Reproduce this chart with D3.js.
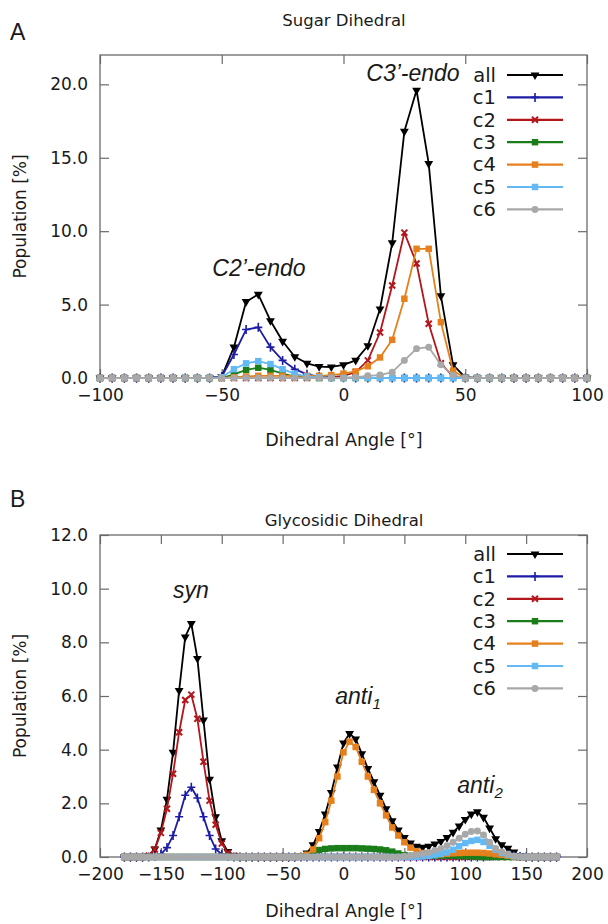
<!DOCTYPE html>
<html><head><meta charset="utf-8">
<script src="https://cdn.jsdelivr.net/npm/d3@7"></script>
<style>
body{margin:0;background:#fff}
svg{display:block}
text{font-family:"DejaVu Sans",sans-serif;fill:#1a1a1a}
</style>
</head><body>
<svg id="chart" width="608" height="924"></svg>
<script>
// ---------- DATA ----------
const seriesNames = ["all","c1","c2","c3","c4","c5","c6"];

// Panel A: Sugar dihedral
const sugarAngles = [-100,-95,-90,-85,-80,-75,-70,-65,-60,-55,
  -50,-45,-40,-35,-30,-25,-20,-15,-10,-5,0,5,10,15,20,25,30,35,40,45,50,
  55,60,65,70,75,80,85,90,95,100];
const sugarAll = [0,0,0,0,0,0,0,0,0,0,
  0.1,2.1,5.2,5.7,3.9,2.5,1.45,1.0,0.78,0.75,0.9,1.2,2.2,4.7,9.2,16.8,19.6,14.6,5.6,0.9,0.05,
  0,0,0,0,0,0,0,0,0,0];
const sugarC1 = [0,0,0,0,0,0,0,0,0,0,
  0.1,1.6,3.3,3.45,2.1,1.2,0.6,0.25,0.1,0.05,0.02,0,0,0,0,0,0,0,0,0,0,
  0,0,0,0,0,0,0,0,0,0];
const sugarC2 = [0,0,0,0,0,0,0,0,0,0,
  0,0,0,0,0,0,0,0,0.02,0.05,0.15,0.4,1.2,3.1,6.3,9.9,7.8,3.7,1.0,0.1,0,
  0,0,0,0,0,0,0,0,0,0];
const sugarC3 = [0,0,0,0,0,0,0,0,0,0,
  0,0.25,0.55,0.7,0.55,0.3,0.1,0.05,0,0,0,0,0,0,0,0,0,0,0,0,0,
  0,0,0,0,0,0,0,0,0,0];
const sugarC4 = [0,0,0,0,0,0,0,0,0,0,
  0,0.05,0.1,0.15,0.15,0.15,0.15,0.15,0.15,0.2,0.3,0.45,0.8,1.4,2.6,5.4,8.8,8.8,3.8,0.5,0,
  0,0,0,0,0,0,0,0,0,0];
const sugarC5 = [0,0,0,0,0,0,0,0,0,0,
  0.05,0.6,1.0,1.15,0.95,0.6,0.3,0.1,0.05,0,0,0,0,0,0,0,0,0,0,0,0,
  0,0,0,0,0,0,0,0,0,0];
const sugarC6 = [0,0,0,0,0,0,0,0,0,0,
  0,0,0,0,0,0,0,0,0,0,0,0.05,0.15,0.2,0.4,1.2,2.0,2.1,0.9,0.2,0,
  0,0,0,0,0,0,0,0,0,0];
const sugarXTicks = [-100,-50,0,50,100];
const sugarYTicks = [0,5,10,15,20];

// Panel B: Glycosidic dihedral
const glyAngles = [-180,-175,-170,-165,-160,-155,-150,-145,-140,-135,-130,-125,
  -120,-115,-110,-105,-100,-95,-90,-85,-80,-75,-70,-65,
  -60,-55,-50,-45,-40,-35,-30,-25,-20,-15,-10,-5,
  0,5,10,15,20,25,30,35,40,45,50,55,
  60,65,70,75,80,85,90,95,100,105,110,115,
  120,125,130,135,140,145,150,155,160,165,170,175];
const glyAll = [0,0,0,0,0.05,0.3,1.0,2.15,3.9,6.2,8.2,8.7,
  7.4,5.1,2.9,1.5,0.6,0.2,0.05,0,0,0,0,0,
  0,0,0,0,0,0.03,0.15,0.45,0.95,1.6,2.4,3.35,
  4.25,4.6,4.4,3.85,3.3,2.8,2.3,1.8,1.35,1.0,0.72,0.52,
  0.4,0.36,0.4,0.48,0.58,0.72,0.92,1.15,1.4,1.6,1.68,1.48,
  1.08,0.68,0.45,0.32,0.18,0.05,0,0,0,0,0,0];
const glyC1 = [0,0,0,0,0,0.02,0.1,0.35,0.8,1.5,2.3,2.6,
  2.2,1.5,0.8,0.3,0.1,0.02,0,0,0,0,0,0,
  0,0,0,0,0,0,0,0,0,0,0,0,
  0,0,0,0,0,0,0,0,0,0,0,0,
  0,0,0,0,0,0,0,0,0,0,0,0,
  0.03,0.05,0.08,0.08,0.05,0.02,0,0,0,0,0,0];
const glyC2 = [0,0,0,0,0.05,0.28,0.9,1.8,3.1,4.65,5.85,6.05,
  5.15,3.55,2.1,1.2,0.5,0.15,0.05,0,0,0,0,0,
  0,0,0,0,0,0,0,0,0,0,0,0,
  0,0,0,0,0,0,0,0,0,0,0,0,
  0,0,0,0,0,0,0,0,0,0,0,0,
  0,0,0,0,0,0,0,0,0,0,0,0];
const glyC3 = [0,0,0,0,0,0,0,0,0,0,0,0,
  0,0,0,0,0,0,0,0,0,0,0,0,
  0,0,0,0,0,0.02,0.08,0.18,0.26,0.3,0.32,0.33,
  0.33,0.33,0.33,0.32,0.31,0.3,0.28,0.25,0.2,0.13,0.07,0.04,
  0.03,0.03,0.04,0.04,0.05,0.05,0.05,0.04,0.03,0.02,0.01,0,
  0,0,0,0,0,0,0,0,0,0,0,0];
const glyC4 = [0,0,0,0,0,0,0,0,0,0,0,0,
  0,0,0,0,0,0,0,0,0,0,0,0,
  0,0,0,0,0,0.02,0.08,0.28,0.7,1.3,2.1,3.0,
  3.9,4.3,4.1,3.55,3.0,2.5,2.0,1.55,1.1,0.8,0.55,0.35,
  0.22,0.15,0.12,0.1,0.1,0.12,0.14,0.15,0.16,0.16,0.16,0.15,
  0.13,0.1,0.08,0.05,0.02,0,0,0,0,0,0,0];
const glyC5 = [0,0,0,0,0,0,0,0,0,0,0,0,
  0,0,0,0,0,0,0,0,0,0,0,0,
  0,0,0,0,0,0,0,0,0,0,0,0,
  0,0,0,0,0,0,0,0,0,0,0,0,
  0.01,0.02,0.04,0.07,0.11,0.17,0.27,0.4,0.52,0.6,0.64,0.56,
  0.42,0.27,0.15,0.08,0.03,0.01,0,0,0,0,0,0];
const glyC6 = [0,0,0,0,0,0,0,0,0,0,0,0,
  0,0,0,0,0,0,0,0,0,0,0,0,
  0,0,0,0,0,0,0,0,0,0,0,0,
  0,0,0,0,0,0,0,0,0,0,0.03,0.05,
  0.08,0.12,0.17,0.24,0.32,0.42,0.55,0.7,0.85,0.95,0.97,0.82,
  0.55,0.32,0.19,0.1,0.04,0.01,0,0,0,0,0,0];
const glyXTicks = [-200,-150,-100,-50,0,50,100,150,200];
const glyYTicks = [0,2,4,6,8,10,12];

// ---------- STYLES ----------
const styles = {
  all:{color:"#000000", sym:"tri"},
  c1:{color:"#1c1ca6", sym:"plus"},
  c2:{color:"#b3161b", sym:"x"},
  c3:{color:"#1a7d1a", sym:"sq"},
  c4:{color:"#e5801c", sym:"sq"},
  c5:{color:"#62b9f4", sym:"sq"},
  c6:{color:"#a8a8a8", sym:"circ"}
};

const svg = d3.select("#chart");

function marker(sel, sym, color){
  if(sym==="tri"){
    sel.append("path").attr("d", d3.symbol(d3.symbolTriangle, 34)()).attr("transform","rotate(180)").attr("fill",color);
  } else if(sym==="plus"){
    sel.append("path").attr("d","M-4,0H4M0,-4.5V4.5").attr("stroke",color).attr("stroke-width",1.6).attr("fill","none");
  } else if(sym==="x"){
    sel.append("path").attr("d","M-3,-3L3,3M-3,3L3,-3").attr("stroke",color).attr("stroke-width",2).attr("fill","none");
  } else if(sym==="sq"){
    sel.append("path").attr("d", d3.symbol(d3.symbolSquare, 42)()).attr("fill",color);
  } else if(sym==="circ"){
    sel.append("path").attr("d", d3.symbol(d3.symbolCircle, 38)()).attr("fill",color);
  }
}

function panel(o){
  const L = 100, R = 587;
  const g = svg.append("g");
  const x = d3.scaleLinear().domain(o.xDomain).range([L, R]);
  const y = d3.scaleLinear().domain(o.yDomain).range([o.bottom, o.top]);
  const fmt = d3.format(".1f");
  const axisColor = "#6a6a6a";

  // Axes with inward ticks
  const ax = g.append("g").attr("transform",`translate(0,${o.bottom})`)
    .call(d3.axisBottom(x).tickValues(o.xTicks).tickSize(-9).tickPadding(11).tickFormat(d3.format("d")));
  const ay = g.append("g").attr("transform",`translate(${L},0)`)
    .call(d3.axisLeft(y).tickValues(o.yTicks).tickSize(-9).tickPadding(12).tickFormat(fmt));
  const at = g.append("g").attr("transform",`translate(0,${o.top})`)
    .call(d3.axisTop(x).tickValues(o.xTicks).tickSize(-9).tickFormat(""));
  const ar = g.append("g").attr("transform",`translate(${R},0)`)
    .call(d3.axisRight(y).tickValues(o.yTicks).tickSize(-9).tickFormat(""));
  [ax,ay,at,ar].forEach(a=>{
    a.select(".domain").remove();
    a.selectAll("line").attr("stroke",axisColor).attr("stroke-width",1.2);
    a.selectAll("text").attr("font-family","DejaVu Sans").attr("font-size",17).attr("fill","#1a1a1a");
  });
  g.append("rect").attr("x",L).attr("y",o.top).attr("width",R-L).attr("height",o.bottom-o.top)
    .attr("fill","none").attr("stroke",axisColor).attr("stroke-width",1.3);

  // Series
  const line = d3.line().x(d=>x(d[0])).y(d=>y(d[1]));
  seriesNames.forEach((name,i)=>{
    const vals = o.series[i];
    const pts = o.angles.map((a,k)=>[a, vals[k]]);
    const st = styles[name];
    g.append("path").datum(pts).attr("d",line).attr("fill","none")
      .attr("stroke",st.color).attr("stroke-width",1.8).attr("stroke-linejoin","round");
    const mg = g.append("g");
    pts.forEach(p=>{
      const m = mg.append("g").attr("transform",`translate(${x(p[0])},${y(p[1])})`);
      marker(m, st.sym, st.color);
    });
  });

  // Legend
  seriesNames.forEach((name,i)=>{
    const ly = o.legendY + i*22.4;
    const st = styles[name];
    g.append("text").attr("x",496).attr("y",ly).attr("dy","0.35em").attr("text-anchor","end")
      .attr("font-size",19.5).text(name);
    g.append("line").attr("x1",507).attr("x2",563).attr("y1",ly).attr("y2",ly)
      .attr("stroke",st.color).attr("stroke-width",2.2);
    const m = g.append("g").attr("transform",`translate(535,${ly})`);
    marker(m, st.sym, st.color);
  });

  // Titles and labels
  svg.append("text").attr("x",344).attr("y",o.titleY).attr("text-anchor","middle")
    .attr("font-size",16.5).text(o.title);
  svg.append("text").attr("x",10).attr("y",o.letterY)
    .attr("font-size",23).style("font-family","'Liberation Sans',Arial,sans-serif").text(o.letter);
  svg.append("text").attr("x",344).attr("y",o.xLabelY).attr("text-anchor","middle")
    .attr("font-size",17.5).text("Dihedral Angle [°]");
  svg.append("text").attr("transform",`translate(26,${(o.top+o.bottom)/2}) rotate(-90)`)
    .attr("text-anchor","middle").attr("font-size",17).text("Population [%]");

  // Annotations
  o.notes.forEach(n=>{
    const t = svg.append("text").attr("x",n.x).attr("y",n.y).attr("text-anchor","middle")
      .style("font-family","'Liberation Sans',Arial,sans-serif").style("font-style","italic")
      .attr("font-size",23).attr("fill","#111");
    t.append("tspan").text(n.text);
    if(n.sub){
      t.append("tspan").attr("font-size",15).attr("dy",5).text(n.sub);
    }
  });
}

panel({
  angles: sugarAngles,
  series: [sugarAll,sugarC1,sugarC2,sugarC3,sugarC4,sugarC5,sugarC6],
  xDomain:[-100,100], yDomain:[0,22], xTicks:sugarXTicks, yTicks:sugarYTicks,
  top:55, bottom:378, legendY:75,
  title:"Sugar Dihedral", titleY:26, letter:"A", letterY:40, xLabelY:446,
  notes:[{x:413,y:81,text:"C3\u2019-endo"},{x:259,y:276,text:"C2\u2019-endo"}]
});

panel({
  angles: glyAngles,
  series: [glyAll,glyC1,glyC2,glyC3,glyC4,glyC5,glyC6],
  xDomain:[-200,200], yDomain:[0,12], xTicks:glyXTicks, yTicks:glyYTicks,
  top:535, bottom:857, legendY:554,
  title:"Glycosidic Dihedral", titleY:526, letter:"B", letterY:507, xLabelY:917,
  notes:[{x:191,y:598,text:"syn"},{x:358,y:704,text:"anti",sub:"1"},{x:480,y:793,text:"anti",sub:"2"}]
});
</script>
</body></html>
